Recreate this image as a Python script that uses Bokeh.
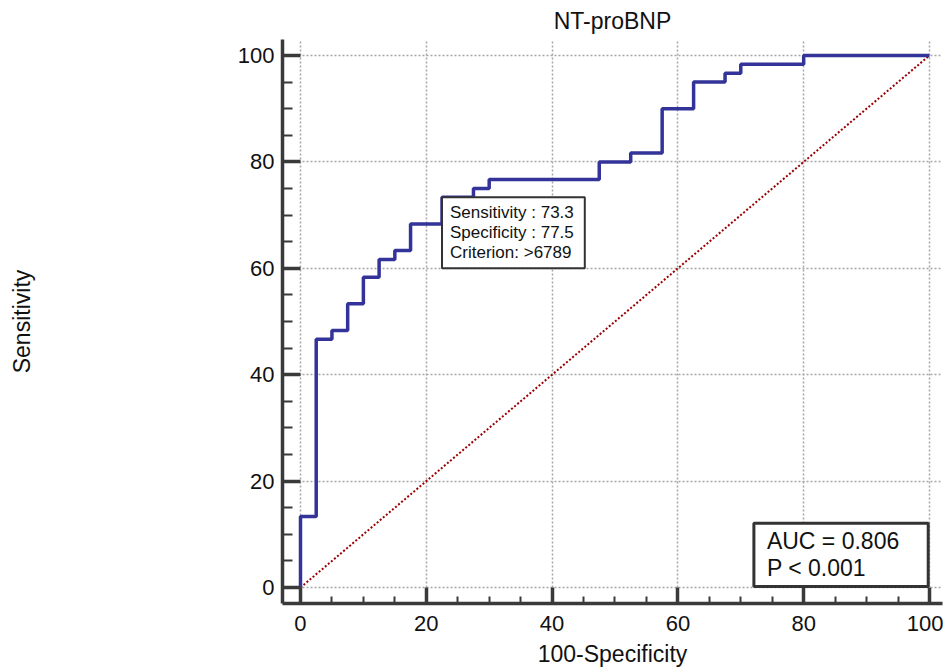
from bokeh.plotting import figure
from bokeh.models import Range1d, SingleIntervalTicker, Label
from bokeh.embed import file_html
from bokeh.resources import INLINE

# ---- data ----
fpr_steps = [0, 0, 2.5, 5, 7.5, 10, 12.5, 15, 17.5, 22.5, 27.5, 30, 47.5, 52.5, 57.5, 62.5, 67.5, 70, 80, 100]
sens_steps = [0, 13.33, 46.67, 48.33, 53.33, 58.33, 61.67, 63.33, 68.33, 73.33, 75.0, 76.67, 80.0, 81.67, 90.0, 95.0, 96.67, 98.33, 100, 100]
diag_x = [0, 100]
diag_y = [0, 100]
cut_fpr = 22.5
cut_sens = 73.33
cut_text = "Sensitivity : 73.3\nSpecificity : 77.5\nCriterion: >6789"
auc_text = "AUC = 0.806\nP < 0.001"
title_text = "NT-proBNP"
x_label = "100-Specificity"
y_label = "Sensitivity"

FONT = "Liberation Sans"
AXC = "#3a3a3a"

p = figure(frame_width=660, frame_height=564,
           min_border_left=282, min_border_right=1, min_border_top=39, min_border_bottom=60,
           x_range=Range1d(-2.86, 102.07), y_range=Range1d(-3.0, 103.0),
           output_backend="svg", toolbar_location=None, title=title_text)
p.outline_line_color = None
p.background_fill_color = "white"
p.border_fill_color = "white"

p.title.align = "center"
p.title.text_font = FONT
p.title.text_font_size = "23px"
p.title.text_font_style = "normal"
p.title.text_color = "#111111"
p.title.standoff = 11

for ax in (p.xaxis[0], p.yaxis[0]):
    ax.ticker = SingleIntervalTicker(interval=20, num_minor_ticks=4)
    ax.axis_line_color = AXC
    ax.axis_line_width = 3.5
    ax.major_tick_line_color = AXC
    ax.major_tick_line_width = 3.5
    ax.major_tick_out = 0
    ax.minor_tick_line_color = AXC
    ax.minor_tick_line_width = 2
    ax.minor_tick_out = 0
    ax.major_label_text_font = FONT
    ax.major_label_text_font_size = "22px"
    ax.major_label_text_color = "#111111"
    ax.axis_label_text_font = FONT
    ax.axis_label_text_font_size = "23px"
    ax.axis_label_text_font_style = "normal"
    ax.axis_label_text_color = "#111111"

p.xaxis[0].axis_label = x_label
p.xaxis[0].major_tick_in = 16
p.xaxis[0].minor_tick_in = 7
p.xaxis[0].major_label_standoff = 12
p.xaxis[0].axis_label_standoff = 7

p.yaxis[0].axis_label = y_label
p.yaxis[0].major_tick_in = 18
p.yaxis[0].minor_tick_in = 10
p.yaxis[0].major_label_standoff = 8
p.yaxis[0].axis_label_standoff = 200

for g in (p.xgrid[0], p.ygrid[0]):
    g.grid_line_color = "#a6a6a6"
    g.grid_line_dash = "2 2"
    g.grid_line_width = 1.5

# diagonal reference line
p.line(diag_x, diag_y, line_color="#9b0000", line_width=2, line_dash="2 2")

# ROC curve
p.step(fpr_steps, sens_steps, mode="after", line_color="#333399", line_width=3.5)

# criterion box anchored at the cut-off point
p.add_layout(Label(x=cut_fpr, y=cut_sens, text=cut_text, anchor="top_left",
                   text_font=FONT, text_font_size="17px", text_color="#111111",
                   text_line_height=1.05,
                   background_fill_color="white", border_line_color="#333333", border_line_width=2,
                   padding=dict(left=8, right=11, top=6, bottom=6)))

# AUC box
p.add_layout(Label(x=99.8, y=0.2, text=auc_text, anchor="bottom_right",
                   text_font=FONT, text_font_size="23px", text_color="#111111",
                   text_line_height=1.05,
                   background_fill_color="white", border_line_color="#333333", border_line_width=3,
                   padding=dict(left=13, right=29, top=5, bottom=5)))

open("out.html", "w").write(file_html(p, INLINE))
